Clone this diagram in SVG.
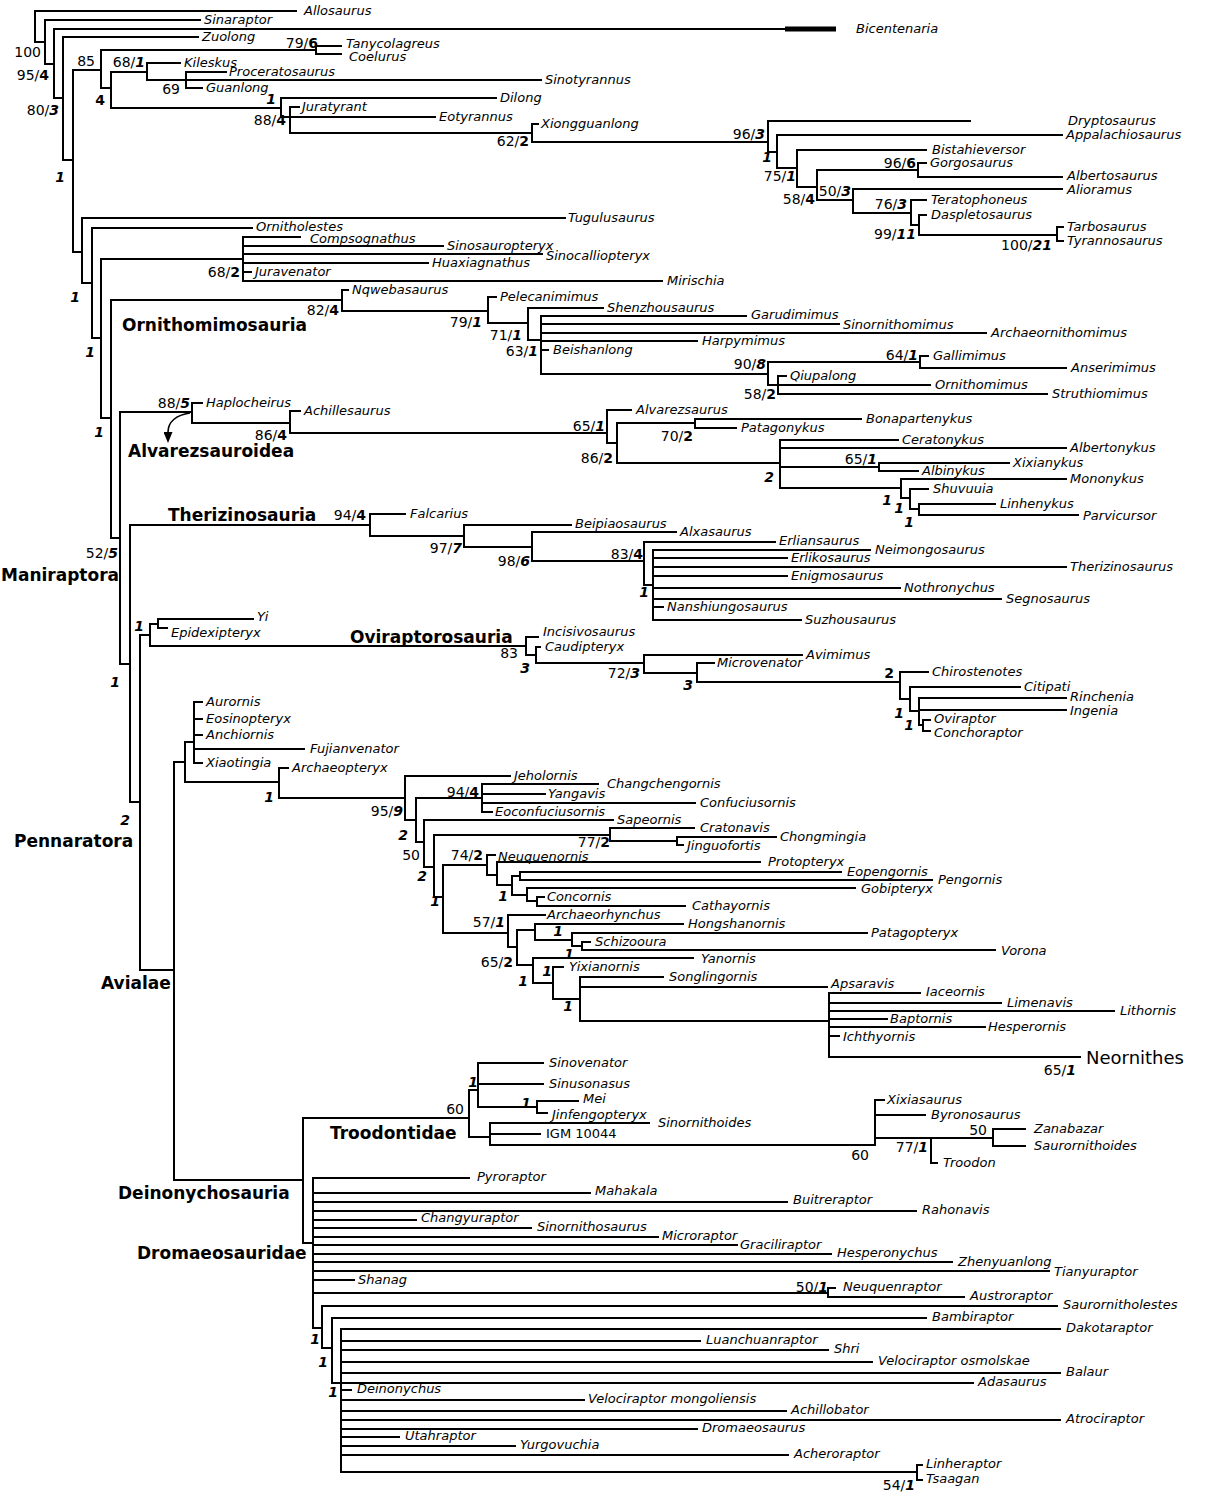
<svg xmlns="http://www.w3.org/2000/svg" width="1213" height="1497" viewBox="0 0 1213 1497">
<defs>
<style>
.br{fill:none;stroke:#000;stroke-width:2;stroke-linecap:square}
text{font-family:"DejaVu Sans","Liberation Sans",sans-serif;fill:#000}
.t{font-style:italic;font-size:13px}
.r{font-size:13px}
.n{font-size:14px;text-anchor:end}
.b{font-weight:bold}
.bi{font-weight:bold;font-style:italic}
.c{font-weight:bold;font-size:17px}
.big{font-size:18px}
</style>
<marker id="ah" viewBox="0 0 11 9" refX="0" refY="4.5" markerWidth="11" markerHeight="9" markerUnits="userSpaceOnUse" orient="auto"><path d="M0 0L11 4.5L0 9z" fill="#000"/></marker>
</defs>
<rect width="1213" height="1497" fill="#fff"/>
<g id="connectors">
<path class="br" d="M35 11H296M35 11V42H45M45 20H200M45 20V64H54M54 29H785M54 29V98H63M63 37H198M63 37V160H73M73 70V252H82M73 70H101M101 50V88H111M101 50H316M316 46V54M316 46H341M316 54H341M111 72V108M111 72H147M147 63V80M147 63H180M147 80H541M186 72V88M186 72H226M186 88H202M111 108H281M281 98V117H290M281 98H496M290 107V133M290 107H299M290 117H435M290 133H532M532 124V142M532 124H538M532 142H768M768 121V152H777M768 121H970M777 135V168H797M777 135H1062M797 150V187H817M797 150H926M817 170V200H853M817 170H918M918 163V177M918 163H926M918 177H1062M853 189V213H911M853 189H1062M911 200V225H919M911 200H926M919 215V235H1057M919 215H926M1057 227V241M1057 227H1063M1057 241H1063"/>
<path d="M785 29H836" stroke="#000" stroke-width="5" fill="none"/>
<path class="br" d="M82 218H565M82 218V283H92M92 228H252M92 228V338H101M101 259V418H111M101 259H243M243 237V281M243 237H300M243 246H443M243 254H542M243 263H428M243 272H251M243 281H662"/>
<path class="br" d="M111 300V538H120M111 300H342M342 290V311M342 290H348M342 311H488M488 297V323M488 297H496M488 323H528M528 308V340M528 308H603M528 340H541M541 316V374M541 316H746M541 324H839M541 333H986M541 341H697M541 350H548M541 374H768M768 362V385H778M768 362H920M920 356V368M920 356H928M920 368H1066M778 376V394M778 376H786M778 385H930M778 394H1047"/>
<path class="br" d="M120 412V664H130M120 412H192M192 403V423M192 403H202M192 423H290M290 411V433M290 411H300M290 433H607M607 410V443H617M607 410H631M617 423V463M617 423H695M695 419V428M695 419H861M695 428H736M617 463H780M780 440V488H901M780 440H898M780 448H1066M780 467H879M879 463V471M879 463H1009M879 471H918M901 479V498H910M901 479H1066M910 489V509H919M910 489H928M919 504V515M919 504H995M919 515H1078"/>
<path d="M190 413C176 415 168 422 168 432" fill="none" stroke="#000" stroke-width="1.6" marker-end="url(#ah)"/>
<path class="br" d="M130 525V802H140M130 525H370M370 514V536M370 514H405M370 536H464M464 525V547M464 525H571M464 547H532M532 532V561M532 532H676M532 561H644M644 542V585H653M644 542H775M653 550V620M653 550H870M653 558H787M653 567H1066M653 576H787M653 588H900M653 599H1001M653 607H663M653 620H801"/>
<path class="br" d="M140 635V970H174M140 635H150M150 624V646M150 624H158M158 619V628M158 619H253M158 628H167M150 646H526M526 637V655H536M526 637H538M536 647V663H644M536 647H540M644 655V673H697M644 655H802M697 663V682H900M697 663H714M900 672V699H910M900 672H928M910 687V711H919M910 687H1020M919 698V725H923M919 698H1066M919 710H1066M923 720V731M923 720H930M923 731H930"/>
<path class="br" d="M174 762V1180H303M174 762H185M185 742V782M185 742H194M194 702V763M194 702H202M194 719H202M194 735H202M194 749H304M194 763H202M185 782H279M279 768V798M279 768H288M279 798H405M405 776V820H416M405 776H510M416 798V842H424M416 798H482M482 784V812M482 784H598M482 794H545M482 803H695M482 812H492M424 820V867H434M424 820H613M434 835V897H443M434 835H610M610 828V841M610 828H694M610 841H677M677 837V845M677 837H776M677 845H683M443 865V933M443 865H487M487 855V875H497M487 855H495M497 862V885H512M497 862H760M512 876V895H527M512 876H520M520 872V880M520 872H841M520 880H932M527 888V901H537M527 888H855M537 897V906M537 897H544M537 906H685M443 933H508M508 915V947H517M508 915H545M517 930V965H533M517 930H535M535 924V940H572M535 924H683M572 933V946H582M572 933H867M582 942V950M582 942H590M582 950H995M533 958V983H553M533 958H693M553 967V999H580M553 967H563M580 977V1021H829M580 977H663M580 987H827M829 993V1057M829 993H920M829 1003H1001M829 1011H1114M829 1019H887M829 1027H985M829 1036H839M829 1057H1080"/>
<path class="br" d="M303 1118V1243H313M303 1118H469M469 1090V1137H490M469 1090H478M478 1063V1107H537M478 1063H543M478 1084H543M537 1101V1113M537 1101H578M537 1113H547M490 1123V1145M490 1123H649M490 1134H540M490 1145H875M875 1100V1145M875 1100H884M875 1115H925M875 1138H993M931 1138V1163M931 1163H937M993 1129V1146M993 1129H1025M993 1146H1025"/>
<path class="br" d="M313 1178V1328H322M313 1178H469M313 1193H590M313 1202H787M313 1211H916M313 1220H416M313 1228H531M313 1237H658M313 1245H737M313 1254H831M313 1262H952M313 1271H1049M313 1280H354M313 1293H828M828 1288V1297M828 1288H835M828 1297H964M322 1306V1348H332M322 1306H1057M332 1318V1383H341M332 1318H926M341 1329V1472M341 1329H1060M341 1341H700M341 1350H828M341 1362H872M341 1373H1060M341 1383H973M341 1390H351M341 1400H584M341 1411H786M341 1420H1060M341 1429H697M341 1437H399M341 1446H515M341 1455H788M341 1472H917M917 1465V1480M917 1465H922M917 1480H922"/>
</g>
<g id="taxa">
<g id="n-Allosaurus"><text class="t" x="304" y="15">Allosaurus</text></g>
<g id="n-Sinaraptor"><text class="t" x="204" y="24">Sinaraptor</text></g>
<g id="n-Bicentenaria"><text class="t" x="856" y="33">Bicentenaria</text></g>
<g id="n-Zuolong"><text class="t" x="202" y="41">Zuolong</text></g>
<g id="n-Tanycolagreus"><text class="t" x="346" y="48">Tanycolagreus</text></g>
<g id="n-Coelurus"><text class="t" x="349" y="61">Coelurus</text></g>
<g id="n-Kileskus"><text class="t" x="184" y="67">Kileskus</text></g>
<g id="n-Proceratosaurus"><text class="t" x="229" y="76">Proceratosaurus</text></g>
<g id="n-Sinotyrannus"><text class="t" x="545" y="84">Sinotyrannus</text></g>
<g id="n-Guanlong"><text class="t" x="206" y="92">Guanlong</text></g>
<g id="n-Dilong"><text class="t" x="500" y="102">Dilong</text></g>
<g id="n-Juratyrant"><text class="t" x="302" y="111">Juratyrant</text></g>
<g id="n-Eotyrannus"><text class="t" x="439" y="121">Eotyrannus</text></g>
<g id="n-Xiongguanlong"><text class="t" x="541" y="128">Xiongguanlong</text></g>
<g id="n-Dryptosaurus"><text class="t" x="1068" y="125">Dryptosaurus</text></g>
<g id="n-Appalachiosaurus"><text class="t" x="1066" y="139">Appalachiosaurus</text></g>
<g id="n-Bistahieversor"><text class="t" x="932" y="154">Bistahieversor</text></g>
<g id="n-Gorgosaurus"><text class="t" x="930" y="167">Gorgosaurus</text></g>
<g id="n-Albertosaurus"><text class="t" x="1067" y="180">Albertosaurus</text></g>
<g id="n-Alioramus"><text class="t" x="1067" y="194">Alioramus</text></g>
<g id="n-Teratophoneus"><text class="t" x="931" y="204">Teratophoneus</text></g>
<g id="n-Daspletosaurus"><text class="t" x="931" y="219">Daspletosaurus</text></g>
<g id="n-Tarbosaurus"><text class="t" x="1067" y="231">Tarbosaurus</text></g>
<g id="n-Tyrannosaurus"><text class="t" x="1067" y="245">Tyrannosaurus</text></g>
<g id="n-Tugulusaurus"><text class="t" x="568" y="222">Tugulusaurus</text></g>
<g id="n-Ornitholestes"><text class="t" x="256" y="231">Ornitholestes</text></g>
<g id="n-Compsognathus"><text class="t" x="310" y="243">Compsognathus</text></g>
<g id="n-Sinosauropteryx"><text class="t" x="447" y="250">Sinosauropteryx</text></g>
<g id="n-Sinocalliopteryx"><text class="t" x="546" y="260">Sinocalliopteryx</text></g>
<g id="n-Huaxiagnathus"><text class="t" x="432" y="267">Huaxiagnathus</text></g>
<g id="n-Juravenator"><text class="t" x="255" y="276">Juravenator</text></g>
<g id="n-Mirischia"><text class="t" x="667" y="285">Mirischia</text></g>
<g id="n-Nqwebasaurus"><text class="t" x="352" y="294">Nqwebasaurus</text></g>
<g id="n-Pelecanimimus"><text class="t" x="500" y="301">Pelecanimimus</text></g>
<g id="n-Shenzhousaurus"><text class="t" x="607" y="312">Shenzhousaurus</text></g>
<g id="n-Garudimimus"><text class="t" x="751" y="319">Garudimimus</text></g>
<g id="n-Sinornithomimus"><text class="t" x="843" y="329">Sinornithomimus</text></g>
<g id="n-Archaeornithomimus"><text class="t" x="991" y="337">Archaeornithomimus</text></g>
<g id="n-Harpymimus"><text class="t" x="702" y="345">Harpymimus</text></g>
<g id="n-Beishanlong"><text class="t" x="553" y="354">Beishanlong</text></g>
<g id="n-Gallimimus"><text class="t" x="933" y="360">Gallimimus</text></g>
<g id="n-Anserimimus"><text class="t" x="1071" y="372">Anserimimus</text></g>
<g id="n-Qiupalong"><text class="t" x="790" y="380">Qiupalong</text></g>
<g id="n-Ornithomimus"><text class="t" x="935" y="389">Ornithomimus</text></g>
<g id="n-Struthiomimus"><text class="t" x="1052" y="398">Struthiomimus</text></g>
<g id="n-Haplocheirus"><text class="t" x="206" y="407">Haplocheirus</text></g>
<g id="n-Achillesaurus"><text class="t" x="304" y="415">Achillesaurus</text></g>
<g id="n-Alvarezsaurus"><text class="t" x="636" y="414">Alvarezsaurus</text></g>
<g id="n-Bonapartenykus"><text class="t" x="866" y="423">Bonapartenykus</text></g>
<g id="n-Patagonykus"><text class="t" x="741" y="432">Patagonykus</text></g>
<g id="n-Ceratonykus"><text class="t" x="902" y="444">Ceratonykus</text></g>
<g id="n-Albertonykus"><text class="t" x="1070" y="452">Albertonykus</text></g>
<g id="n-Xixianykus"><text class="t" x="1013" y="467">Xixianykus</text></g>
<g id="n-Albinykus"><text class="t" x="922" y="475">Albinykus</text></g>
<g id="n-Mononykus"><text class="t" x="1070" y="483">Mononykus</text></g>
<g id="n-Shuvuuia"><text class="t" x="933" y="493">Shuvuuia</text></g>
<g id="n-Linhenykus"><text class="t" x="1000" y="508">Linhenykus</text></g>
<g id="n-Parvicursor"><text class="t" x="1083" y="520">Parvicursor</text></g>
<g id="n-Falcarius"><text class="t" x="410" y="518">Falcarius</text></g>
<g id="n-Beipiaosaurus"><text class="t" x="575" y="528">Beipiaosaurus</text></g>
<g id="n-Alxasaurus"><text class="t" x="680" y="536">Alxasaurus</text></g>
<g id="n-Erliansaurus"><text class="t" x="779" y="545">Erliansaurus</text></g>
<g id="n-Neimongosaurus"><text class="t" x="875" y="554">Neimongosaurus</text></g>
<g id="n-Erlikosaurus"><text class="t" x="791" y="562">Erlikosaurus</text></g>
<g id="n-Therizinosaurus"><text class="t" x="1070" y="571">Therizinosaurus</text></g>
<g id="n-Enigmosaurus"><text class="t" x="791" y="580">Enigmosaurus</text></g>
<g id="n-Nothronychus"><text class="t" x="904" y="592">Nothronychus</text></g>
<g id="n-Segnosaurus"><text class="t" x="1006" y="603">Segnosaurus</text></g>
<g id="n-Nanshiungosaurus"><text class="t" x="667" y="611">Nanshiungosaurus</text></g>
<g id="n-Suzhousaurus"><text class="t" x="805" y="624">Suzhousaurus</text></g>
<g id="n-Yi"><text class="t" x="257" y="621">Yi</text></g>
<g id="n-Epidexipteryx"><text class="t" x="171" y="637">Epidexipteryx</text></g>
<g id="n-Incisivosaurus"><text class="t" x="543" y="636">Incisivosaurus</text></g>
<g id="n-Caudipteryx"><text class="t" x="545" y="651">Caudipteryx</text></g>
<g id="n-Avimimus"><text class="t" x="806" y="659">Avimimus</text></g>
<g id="n-Microvenator"><text class="t" x="717" y="667">Microvenator</text></g>
<g id="n-Chirostenotes"><text class="t" x="932" y="676">Chirostenotes</text></g>
<g id="n-Citipati"><text class="t" x="1024" y="691">Citipati</text></g>
<g id="n-Rinchenia"><text class="t" x="1070" y="701">Rinchenia</text></g>
<g id="n-Ingenia"><text class="t" x="1070" y="715">Ingenia</text></g>
<g id="n-Oviraptor"><text class="t" x="934" y="723">Oviraptor</text></g>
<g id="n-Conchoraptor"><text class="t" x="934" y="737">Conchoraptor</text></g>
<g id="n-Aurornis"><text class="t" x="206" y="706">Aurornis</text></g>
<g id="n-Eosinopteryx"><text class="t" x="206" y="723">Eosinopteryx</text></g>
<g id="n-Anchiornis"><text class="t" x="206" y="739">Anchiornis</text></g>
<g id="n-Fujianvenator"><text class="t" x="310" y="753">Fujianvenator</text></g>
<g id="n-Xiaotingia"><text class="t" x="206" y="767">Xiaotingia</text></g>
<g id="n-Archaeopteryx"><text class="t" x="292" y="772">Archaeopteryx</text></g>
<g id="n-Jeholornis"><text class="t" x="514" y="780">Jeholornis</text></g>
<g id="n-Changchengornis"><text class="t" x="607" y="788">Changchengornis</text></g>
<g id="n-Yangavis"><text class="t" x="548" y="798">Yangavis</text></g>
<g id="n-Confuciusornis"><text class="t" x="700" y="807">Confuciusornis</text></g>
<g id="n-Eoconfuciusornis"><text class="t" x="495" y="816">Eoconfuciusornis</text></g>
<g id="n-Sapeornis"><text class="t" x="617" y="824">Sapeornis</text></g>
<g id="n-Cratonavis"><text class="t" x="700" y="832">Cratonavis</text></g>
<g id="n-Chongmingia"><text class="t" x="780" y="841">Chongmingia</text></g>
<g id="n-Jinguofortis"><text class="t" x="687" y="850">Jinguofortis</text></g>
<g id="n-Neuquenornis"><text class="t" x="498" y="861">Neuquenornis</text></g>
<g id="n-Protopteryx"><text class="t" x="768" y="866">Protopteryx</text></g>
<g id="n-Eopengornis"><text class="t" x="847" y="876">Eopengornis</text></g>
<g id="n-Pengornis"><text class="t" x="938" y="884">Pengornis</text></g>
<g id="n-Gobipteryx"><text class="t" x="861" y="893">Gobipteryx</text></g>
<g id="n-Concornis"><text class="t" x="547" y="901">Concornis</text></g>
<g id="n-Cathayornis"><text class="t" x="692" y="910">Cathayornis</text></g>
<g id="n-Archaeorhynchus"><text class="t" x="547" y="919">Archaeorhynchus</text></g>
<g id="n-Hongshanornis"><text class="t" x="688" y="928">Hongshanornis</text></g>
<g id="n-Patagopteryx"><text class="t" x="871" y="937">Patagopteryx</text></g>
<g id="n-Schizooura"><text class="t" x="595" y="946">Schizooura</text></g>
<g id="n-Vorona"><text class="t" x="1001" y="955">Vorona</text></g>
<g id="n-Yanornis"><text class="t" x="701" y="963">Yanornis</text></g>
<g id="n-Yixianornis"><text class="t" x="569" y="971">Yixianornis</text></g>
<g id="n-Songlingornis"><text class="t" x="669" y="981">Songlingornis</text></g>
<g id="n-Apsaravis"><text class="t" x="831" y="988">Apsaravis</text></g>
<g id="n-Iaceornis"><text class="t" x="926" y="996">Iaceornis</text></g>
<g id="n-Limenavis"><text class="t" x="1007" y="1007">Limenavis</text></g>
<g id="n-Lithornis"><text class="t" x="1120" y="1015">Lithornis</text></g>
<g id="n-Baptornis"><text class="t" x="890" y="1023">Baptornis</text></g>
<g id="n-Hesperornis"><text class="t" x="988" y="1031">Hesperornis</text></g>
<g id="n-Ichthyornis"><text class="t" x="843" y="1041">Ichthyornis</text></g>
<g id="n-Neornithes"><text class="big" x="1086" y="1064">Neornithes</text></g>
<g id="n-Sinovenator"><text class="t" x="549" y="1067">Sinovenator</text></g>
<g id="n-Sinusonasus"><text class="t" x="549" y="1088">Sinusonasus</text></g>
<g id="n-Mei"><text class="t" x="583" y="1103">Mei</text></g>
<g id="n-Jinfengopteryx"><text class="t" x="552" y="1119">Jinfengopteryx</text></g>
<g id="n-Sinornithoides"><text class="t" x="658" y="1127">Sinornithoides</text></g>
<g id="n-IGM10044"><text class="r" x="546" y="1138">IGM 10044</text></g>
<g id="n-Xixiasaurus"><text class="t" x="887" y="1104">Xixiasaurus</text></g>
<g id="n-Byronosaurus"><text class="t" x="931" y="1119">Byronosaurus</text></g>
<g id="n-Zanabazar"><text class="t" x="1034" y="1133">Zanabazar</text></g>
<g id="n-Saurornithoides"><text class="t" x="1034" y="1150">Saurornithoides</text></g>
<g id="n-Troodon"><text class="t" x="943" y="1167">Troodon</text></g>
<g id="n-Pyroraptor"><text class="t" x="477" y="1181">Pyroraptor</text></g>
<g id="n-Mahakala"><text class="t" x="595" y="1195">Mahakala</text></g>
<g id="n-Buitreraptor"><text class="t" x="793" y="1204">Buitreraptor</text></g>
<g id="n-Rahonavis"><text class="t" x="922" y="1214">Rahonavis</text></g>
<g id="n-Changyuraptor"><text class="t" x="421" y="1222">Changyuraptor</text></g>
<g id="n-Sinornithosaurus"><text class="t" x="537" y="1231">Sinornithosaurus</text></g>
<g id="n-Microraptor"><text class="t" x="662" y="1240">Microraptor</text></g>
<g id="n-Graciliraptor"><text class="t" x="740" y="1249">Graciliraptor</text></g>
<g id="n-Hesperonychus"><text class="t" x="837" y="1257">Hesperonychus</text></g>
<g id="n-Zhenyuanlong"><text class="t" x="958" y="1266">Zhenyuanlong</text></g>
<g id="n-Tianyuraptor"><text class="t" x="1054" y="1276">Tianyuraptor</text></g>
<g id="n-Shanag"><text class="t" x="358" y="1284">Shanag</text></g>
<g id="n-Neuquenraptor"><text class="t" x="843" y="1291">Neuquenraptor</text></g>
<g id="n-Austroraptor"><text class="t" x="970" y="1300">Austroraptor</text></g>
<g id="n-Saurornitholestes"><text class="t" x="1063" y="1309">Saurornitholestes</text></g>
<g id="n-Bambiraptor"><text class="t" x="932" y="1321">Bambiraptor</text></g>
<g id="n-Dakotaraptor"><text class="t" x="1066" y="1332">Dakotaraptor</text></g>
<g id="n-Luanchuanraptor"><text class="t" x="706" y="1344">Luanchuanraptor</text></g>
<g id="n-Shri"><text class="t" x="834" y="1353">Shri</text></g>
<g id="n-Velociraptor-osmolskae"><text class="t" x="878" y="1365">Velociraptor osmolskae</text></g>
<g id="n-Balaur"><text class="t" x="1066" y="1376">Balaur</text></g>
<g id="n-Adasaurus"><text class="t" x="978" y="1386">Adasaurus</text></g>
<g id="n-Deinonychus"><text class="t" x="357" y="1393">Deinonychus</text></g>
<g id="n-Velociraptor-mongoliensis"><text class="t" x="588" y="1403">Velociraptor mongoliensis</text></g>
<g id="n-Achillobator"><text class="t" x="791" y="1414">Achillobator</text></g>
<g id="n-Atrociraptor"><text class="t" x="1066" y="1423">Atrociraptor</text></g>
<g id="n-Dromaeosaurus"><text class="t" x="702" y="1432">Dromaeosaurus</text></g>
<g id="n-Utahraptor"><text class="t" x="405" y="1440">Utahraptor</text></g>
<g id="n-Yurgovuchia"><text class="t" x="520" y="1449">Yurgovuchia</text></g>
<g id="n-Acheroraptor"><text class="t" x="794" y="1458">Acheroraptor</text></g>
<g id="n-Linheraptor"><text class="t" x="926" y="1468">Linheraptor</text></g>
<g id="n-Tsaagan"><text class="t" x="926" y="1483">Tsaagan</text></g>
</g>
<g id="clades">
<g id="c-Ornithomimosauria"><text class="c" x="122" y="331">Ornithomimosauria</text></g>
<g id="c-Alvarezsauroidea"><text class="c" x="128" y="457">Alvarezsauroidea</text></g>
<g id="c-Therizinosauria"><text class="c" x="168" y="521">Therizinosauria</text></g>
<g id="c-Maniraptora"><text class="c" x="1" y="581">Maniraptora</text></g>
<g id="c-Oviraptorosauria"><text class="c" x="350" y="643">Oviraptorosauria</text></g>
<g id="c-Pennaratora"><text class="c" x="14" y="847">Pennaratora</text></g>
<g id="c-Avialae"><text class="c" x="101" y="989">Avialae</text></g>
<g id="c-Troodontidae"><text class="c" x="330" y="1139">Troodontidae</text></g>
<g id="c-Deinonychosauria"><text class="c" x="118" y="1199">Deinonychosauria</text></g>
<g id="c-Dromaeosauridae"><text class="c" x="137" y="1259">Dromaeosauridae</text></g>
</g>
<g id="support">
<text class="n" x="41" y="57">100</text>
<text class="n" x="49" y="80">95/<tspan class="b">4</tspan></text>
<text class="n" x="59" y="115">80/<tspan class="bi">3</tspan></text>
<text class="n bi" x="65" y="182">1</text>
<text class="n" x="95" y="66">85</text>
<text class="n b" x="105" y="105">4</text>
<text class="n" x="145" y="67">68/<tspan class="bi">1</tspan></text>
<text class="n" x="318" y="48">79/<tspan class="b">6</tspan></text>
<text class="n" x="180" y="94">69</text>
<text class="n bi" x="276" y="104">1</text>
<text class="n" x="286" y="125">88/<tspan class="b">4</tspan></text>
<text class="n" x="529" y="146">62/<tspan class="b">2</tspan></text>
<text class="n" x="765" y="139">96/<tspan class="bi">3</tspan></text>
<text class="n bi" x="772" y="162">1</text>
<text class="n" x="916" y="168">96/<tspan class="b">6</tspan></text>
<text class="n" x="796" y="181">75/<tspan class="bi">1</tspan></text>
<text class="n" x="851" y="196">50/<tspan class="bi">3</tspan></text>
<text class="n" x="815" y="204">58/<tspan class="b">4</tspan></text>
<text class="n" x="907" y="209">76/<tspan class="bi">3</tspan></text>
<text class="n" x="916" y="239">99/<tspan class="bi">11</tspan></text>
<text class="n" x="1052" y="250">100/<tspan class="bi">21</tspan></text>
<text class="n bi" x="80" y="302">1</text>
<text class="n" x="240" y="277">68/<tspan class="b">2</tspan></text>
<text class="n bi" x="95" y="357">1</text>
<text class="n bi" x="104" y="437">1</text>
<text class="n" x="339" y="315">82/<tspan class="b">4</tspan></text>
<text class="n" x="482" y="327">79/<tspan class="bi">1</tspan></text>
<text class="n" x="522" y="340">71/<tspan class="bi">1</tspan></text>
<text class="n" x="538" y="356">63/<tspan class="bi">1</tspan></text>
<text class="n" x="766" y="369">90/<tspan class="bi">8</tspan></text>
<text class="n" x="918" y="360">64/<tspan class="bi">1</tspan></text>
<text class="n" x="776" y="399">58/<tspan class="b">2</tspan></text>
<text class="n" x="190" y="408">88/<tspan class="bi">5</tspan></text>
<text class="n" x="287" y="440">86/<tspan class="b">4</tspan></text>
<text class="n" x="605" y="431">65/<tspan class="bi">1</tspan></text>
<text class="n" x="613" y="463">86/<tspan class="b">2</tspan></text>
<text class="n" x="693" y="441">70/<tspan class="b">2</tspan></text>
<text class="n" x="877" y="464">65/<tspan class="bi">1</tspan></text>
<text class="n bi" x="774" y="482">2</text>
<text class="n bi" x="892" y="505">1</text>
<text class="n bi" x="904" y="513">1</text>
<text class="n bi" x="914" y="527">1</text>
<text class="n" x="366" y="520">94/<tspan class="b">4</tspan></text>
<text class="n" x="462" y="553">97/<tspan class="bi">7</tspan></text>
<text class="n" x="530" y="566">98/<tspan class="bi">6</tspan></text>
<text class="n" x="643" y="559">83/<tspan class="b">4</tspan></text>
<text class="n bi" x="649" y="597">1</text>
<text class="n" x="118" y="558">52/<tspan class="bi">5</tspan></text>
<text class="n bi" x="144" y="631">1</text>
<text class="n" x="518" y="658">83</text>
<text class="n bi" x="530" y="673">3</text>
<text class="n" x="640" y="678">72/<tspan class="bi">3</tspan></text>
<text class="n bi" x="693" y="690">3</text>
<text class="n b" x="894" y="678">2</text>
<text class="n bi" x="904" y="718">1</text>
<text class="n bi" x="914" y="730">1</text>
<text class="n bi" x="120" y="687">1</text>
<text class="n bi" x="130" y="825">2</text>
<text class="n bi" x="274" y="802">1</text>
<text class="n" x="403" y="816">95/<tspan class="bi">9</tspan></text>
<text class="n" x="479" y="797">94/<tspan class="b">4</tspan></text>
<text class="n bi" x="408" y="840">2</text>
<text class="n" x="420" y="860">50</text>
<text class="n" x="610" y="847">77/<tspan class="b">2</tspan></text>
<text class="n bi" x="427" y="881">2</text>
<text class="n" x="483" y="860">74/<tspan class="b">2</tspan></text>
<text class="n bi" x="508" y="901">1</text>
<text class="n bi" x="440" y="906">1</text>
<text class="n" x="505" y="927">57/<tspan class="bi">1</tspan></text>
<text class="n bi" x="563" y="936">1</text>
<text class="n bi" x="574" y="959">1</text>
<text class="n" x="513" y="967">65/<tspan class="b">2</tspan></text>
<text class="n bi" x="552" y="976">1</text>
<text class="n bi" x="528" y="986">1</text>
<text class="n bi" x="573" y="1011">1</text>
<text class="n" x="1076" y="1075">65/<tspan class="bi">1</tspan></text>
<text class="n bi" x="478" y="1087">1</text>
<text class="n bi" x="531" y="1108">1</text>
<text class="n" x="464" y="1114">60</text>
<text class="n" x="869" y="1160">60</text>
<text class="n" x="928" y="1152">77/<tspan class="bi">1</tspan></text>
<text class="n" x="987" y="1135">50</text>
<text class="n" x="828" y="1292">50/<tspan class="bi">1</tspan></text>
<text class="n bi" x="320" y="1344">1</text>
<text class="n bi" x="328" y="1367">1</text>
<text class="n bi" x="338" y="1397">1</text>
<text class="n" x="915" y="1490">54/<tspan class="bi">1</tspan></text>
</g>
</svg>
